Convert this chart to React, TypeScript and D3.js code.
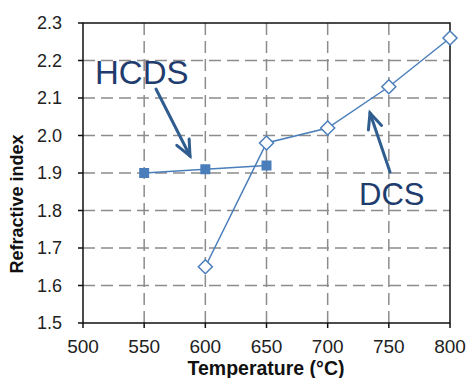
import { useEffect, useRef } from 'react';
import * as d3 from 'd3';

const hcdsTemp = [550, 600, 650];
const hcdsIndex = [1.9, 1.91, 1.92];
const dcsTemp = [600, 650, 700, 750, 800];
const dcsIndex = [1.65, 1.98, 2.02, 2.13, 2.26];
const xTicks = [500, 550, 600, 650, 700, 750, 800];
const yTicks = [1.5, 1.6, 1.7, 1.8, 1.9, 2.0, 2.1, 2.2, 2.3];

const W = 470;
const H = 378;
const LINE = '#4a7ebb';
const NAVY = '#1f3c6e';
const ARROW = '#2f5d8f';

export default function App() {
  const ref = useRef<SVGSVGElement>(null);

  useEffect(() => {
    const svg = d3.select(ref.current);
    svg.selectAll('*').remove();
    const m = { left: 83, top: 23, right: 450, bottom: 323 };
    const x = d3.scaleLinear().domain([500, 800]).range([m.left, m.right]);
    const y = d3.scaleLinear().domain([1.5, 2.3]).range([m.bottom, m.top]);
    const font = 'Liberation Sans, Arial, sans-serif';

    // grid
    svg.append('g').selectAll('line').data(yTicks.slice(1, -1)).join('line')
      .attr('x1', m.left).attr('x2', m.right)
      .attr('y1', (d) => y(d)).attr('y2', (d) => y(d))
      .attr('stroke', '#8c8c8c').attr('stroke-width', 1.5).attr('stroke-dasharray', '12,6');
    svg.append('g').selectAll('line').data(xTicks.slice(1, -1)).join('line')
      .attr('y1', m.top).attr('y2', m.bottom)
      .attr('x1', (d) => x(d)).attr('x2', (d) => x(d))
      .attr('stroke', '#8c8c8c').attr('stroke-width', 1.5).attr('stroke-dasharray', '12,6');

    // frame
    svg.append('rect').attr('x', m.left).attr('y', m.top)
      .attr('width', m.right - m.left).attr('height', m.bottom - m.top)
      .attr('fill', 'none').attr('stroke', '#111').attr('stroke-width', 1.5);

    // ticks
    svg.append('g').selectAll('line').data(yTicks).join('line')
      .attr('x1', m.left - 5).attr('x2', m.left)
      .attr('y1', (d) => y(d)).attr('y2', (d) => y(d))
      .attr('stroke', '#111').attr('stroke-width', 1.5);
    svg.append('g').selectAll('line').data(xTicks).join('line')
      .attr('y1', m.bottom).attr('y2', m.bottom + 5)
      .attr('x1', (d) => x(d)).attr('x2', (d) => x(d))
      .attr('stroke', '#111').attr('stroke-width', 1.5);

    svg.append('g').selectAll('text').data(yTicks).join('text')
      .attr('x', 62).attr('y', (d) => y(d)).attr('dy', '0.35em')
      .attr('text-anchor', 'end').attr('font-family', font).attr('font-size', 18)
      .attr('fill', '#222').text((d) => d.toFixed(1));
    svg.append('g').selectAll('text').data(xTicks).join('text')
      .attr('x', (d) => x(d)).attr('y', 353)
      .attr('text-anchor', 'middle').attr('font-family', font).attr('font-size', 19)
      .attr('fill', '#222').text((d) => d);

    svg.append('text').attr('x', 266).attr('y', 375).attr('text-anchor', 'middle')
      .attr('font-family', font).attr('font-size', 19.5).attr('font-weight', 'bold')
      .attr('fill', '#111').text('Temperature (°C)');
    svg.append('text').attr('transform', 'translate(23,204) rotate(-90)')
      .attr('text-anchor', 'middle')
      .attr('font-family', font).attr('font-size', 18).attr('font-weight', 'bold')
      .attr('fill', '#111').text('Refractive index');

    const line = d3.line<[number, number]>().x((d) => x(d[0])).y((d) => y(d[1]));
    const hcds = hcdsTemp.map((t, i) => [t, hcdsIndex[i]] as [number, number]);
    const dcs = dcsTemp.map((t, i) => [t, dcsIndex[i]] as [number, number]);

    svg.append('path').attr('d', line(hcds)).attr('fill', 'none')
      .attr('stroke', LINE).attr('stroke-width', 1.5);
    svg.append('path').attr('d', line(dcs)).attr('fill', 'none')
      .attr('stroke', LINE).attr('stroke-width', 1.5);

    svg.append('g').selectAll('rect').data(hcds).join('rect')
      .attr('x', (d) => x(d[0]) - 5).attr('y', (d) => y(d[1]) - 5)
      .attr('width', 10).attr('height', 10).attr('fill', LINE);
    svg.append('g').selectAll('path').data(dcs).join('path')
      .attr('d', (d) => {
        const cx = x(d[0]);
        const cy = y(d[1]);
        return `M${cx},${cy - 7}L${cx + 7},${cy}L${cx},${cy + 7}L${cx - 7},${cy}Z`;
      })
      .attr('fill', 'white').attr('stroke', LINE).attr('stroke-width', 1.5);

    // annotations
    const arrow = (x1: number, y1: number, x2: number, y2: number) => {
      const g = svg.append('g').attr('stroke', ARROW).attr('stroke-width', 3)
        .attr('fill', 'none').attr('stroke-linecap', 'round');
      g.append('line').attr('x1', x1).attr('y1', y1).attr('x2', x2).attr('y2', y2);
      const a = Math.atan2(y2 - y1, x2 - x1);
      const len = 17;
      const spread = 0.42;
      const p1 = [x2 - len * Math.cos(a - spread), y2 - len * Math.sin(a - spread)];
      const p2 = [x2 - len * Math.cos(a + spread), y2 - len * Math.sin(a + spread)];
      g.append('path').attr('d', `M${p1[0]},${p1[1]}L${x2},${y2}L${p2[0]},${p2[1]}`);
    };
    arrow(156, 89, 190, 156);
    arrow(390, 172, 370, 113);

    svg.append('text').attr('x', 95).attr('y', 84).attr('font-family', font)
      .attr('font-size', 33).attr('fill', NAVY).text('HCDS');
    svg.append('text').attr('x', 359).attr('y', 205).attr('font-family', font)
      .attr('font-size', 31).attr('fill', NAVY).text('DCS');
  }, []);

  return (
    <div style={{ position: 'fixed', left: 0, top: 0, background: 'white' }}>
      <svg ref={ref} width={W} height={H} />
    </div>
  );
}
